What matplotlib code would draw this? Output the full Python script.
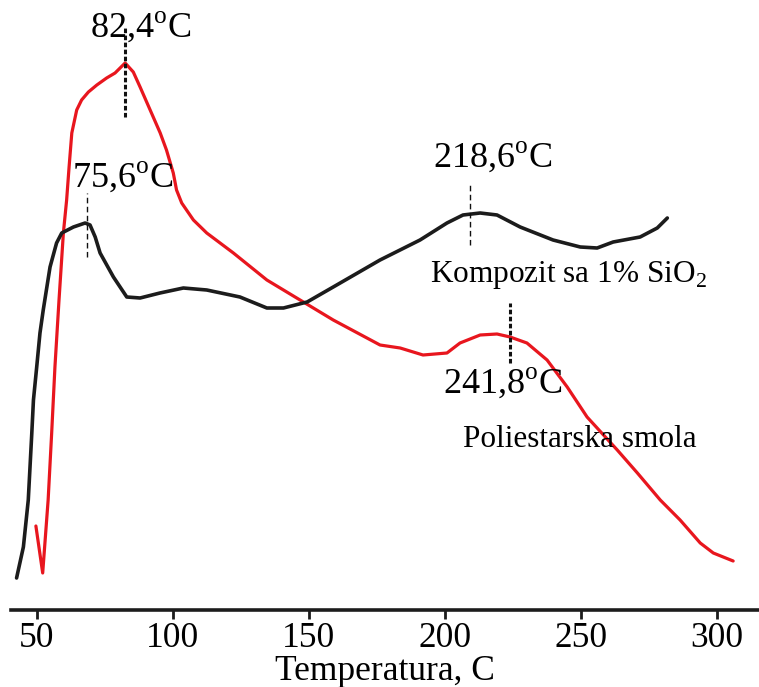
import numpy as np
import matplotlib.pyplot as plt

plt.rcParams["font.family"] = ["Liberation Serif", "DejaVu Serif"]
plt.rcParams["mathtext.fontset"] = "custom"
plt.rcParams["mathtext.rm"] = "Liberation Serif"

# Poliestarska smola (crvena)
temp_smola = [49.7, 52.2, 54.2, 55.5, 56.7, 58.2, 59.8, 61.0, 61.9, 62.9, 64.7, 66.5, 69.0, 72.1, 75.7, 78.8,
              82.5, 85.5, 88.0, 91.7, 95.4, 97.7, 100.2, 101.4, 103.3, 107.6, 112.5, 122.3, 134.6, 146.8, 159.0,
              176.2, 183.6, 192.0, 200.8, 205.6, 213.0, 219.2, 224.0, 230.2, 237.6, 245.0, 252.3, 263.4, 270.8,
              279.2, 286.5, 293.9, 298.7, 306.0]
sig_smola = [84, 37, 110, 177, 243, 310, 377, 410, 443, 477, 500, 510, 518, 525, 532, 537,
             547, 538, 523, 500, 477, 460, 437, 420, 407, 390, 377, 357, 330, 310, 290,
             265, 262, 255, 257, 267, 275, 276, 273, 267, 250, 223, 193, 160, 137,
             110, 90, 67, 57, 49]

# Kompozit sa 1% SiO2 (crna)
temp_komp = [42.6, 45.1, 46.9, 48.2, 48.8, 50.0, 51.2, 52.4, 54.9, 57.3, 59.2, 63.5, 67.8, 69.6, 71.5, 73.3,
             78.2, 83.1, 88.0, 95.3, 103.9, 112.5, 124.7, 134.6, 140.7, 149.4, 159.0, 176.2, 190.9, 200.8,
             206.7, 213.0, 219.2, 227.7, 239.8, 249.8, 256.0, 261.9, 271.8, 278.1, 281.8]
sig_komp = [32, 63, 110, 177, 210, 243, 277, 300, 343, 367, 377, 383, 387, 385, 373, 357,
            333, 313, 312, 317, 322, 320, 313, 302, 302, 308, 323, 350, 370, 387,
            395, 397, 395, 383, 370, 363, 362, 368, 373, 382, 392]

x_ticks = [50, 100, 150, 200, 250, 300]

fig = plt.figure(figsize=(7.59, 6.87), dpi=100)
ax = fig.add_axes([11 / 759, 77 / 687, 748 / 759, 610 / 687])

ax.plot(temp_smola, sig_smola, color="#e8161e", lw=2.3, solid_joinstyle="round", solid_capstyle="round")
ax.plot(temp_komp, sig_komp, color="#1c1c1c", lw=2.6, solid_joinstyle="round", solid_capstyle="round")

# oznake pikova
ax.plot([82.5, 82.5], [493, 583], color="#111111", lw=2.2, ls=(0, (1.5, 0.8)))
ax.plot([224.0, 224.0], [247, 307], color="#111111", lw=2.2, ls=(0, (1.5, 0.8)))
ax.plot([68.5, 68.5], [353, 417], color="#111111", lw=1.0, ls=(0, (4, 2.5)))
ax.plot([209.3, 209.3], [365, 425], color="#111111", lw=1.0, ls=(0, (4, 2.5)))

ax.text(69.6, 573, r"82,4$^{\rm o}$C", fontsize=26, ha="left", va="baseline")
ax.text(63.0, 423, r"75,6$^{\rm o}$C", fontsize=26, ha="left", va="baseline")
ax.text(195.7, 443, r"218,6$^{\rm o}$C", fontsize=26, ha="left", va="baseline")
ax.text(199.4, 217, r"241,8$^{\rm o}$C", fontsize=26, ha="left", va="baseline")
ax.text(194.6, 328, r"Kompozit sa 1% SiO$_2$", fontsize=22.5, ha="left", va="baseline")
ax.text(206.7, 163, "Poliestarska smola", fontsize=22.5, ha="left", va="baseline")

ax.set_xlim(40.55, 315.5)
ax.set_ylim(0, 610)
ax.set_xticks(x_ticks)
ax.set_yticks([])
for s in ["left", "right", "top"]:
    ax.spines[s].set_visible(False)
ax.spines["bottom"].set_linewidth(2.6)
ax.spines["bottom"].set_color("#1c1c1c")
ax.tick_params(axis="x", direction="out", length=6.5, width=2, color="#1c1c1c", labelsize=25.5, pad=2)
ax.set_xlabel("Temperatura, C", fontsize=25.5, labelpad=0.5)

plt.savefig("out.png", dpi=100)
